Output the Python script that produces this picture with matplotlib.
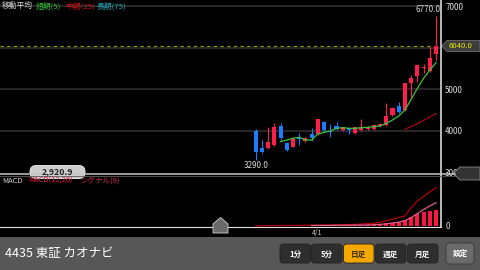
import numpy as np
import matplotlib
matplotlib.use('Agg')
import matplotlib.pyplot as plt
from matplotlib.patches import Rectangle, Polygon, FancyBboxPatch

plt.rcParams['font.family'] = ['Noto Sans CJK JP', 'DejaVu Sans']

# daily candles
opens  = [4000, 3574, 3590, 3655, 4122, 3695, 3615, 3840, 3743, 3920,
          3920, 4218, 4001, 4114, 4017, 4057, 3937, 4017, 4033, 4033,
          4114, 4138, 4379, 4597, 4500, 5160, 5321, 5506, 5450, 5860]
closes = [3494, 3494, 3719, 4081, 3832, 3534, 3792, 3792, 3824, 3816,
          4275, 4017, 3977, 4033, 4081, 4017, 4081, 4098, 4098, 4138,
          4162, 4355, 4556, 4460, 5160, 5281, 5587, 5530, 5764, 6040]
highs  = [4033, 3775, 4098, 4178, 4178, 3735, 3856, 3937, 3856, 4073,
          4275, 4234, 4154, 4218, 4098, 4081, 4098, 4275, 4114, 4154,
          4195, 4661, 4580, 4701, 5160, 5345, 5611, 5611, 6013, 6770]
lows   = [3290, 3454, 3550, 3620, 3775, 3518, 3598, 3655, 3719, 3760,
          3896, 3977, 3840, 4017, 4001, 3920, 3920, 4001, 4017, 4017,
          4098, 4122, 4355, 4436, 4484, 4782, 5184, 5385, 5426, 5708]

ma5 = [3735, 3775, 3816, 3840, 3775, 3775, 3920, 3961, 3993, 4057,
       4073, 4057, 4057, 4073, 4081, 4098, 4114, 4178, 4258, 4355,
       4500, 4758, 5023, 5265, 5466, 5643]
ma25 = [4034, 4100, 4170, 4250, 4330, 4420]

macd_line = [0, 0, 1, 1, 1, 2, 2, 2, 3, 3, 4, 4, 5, 5, 6, 7, 8, 10, 12, 15,
             20, 28, 37, 46, 55, 100, 137, 163, 188, 212]
signal = [2, 2, 2, 2, 3, 3, 3, 4, 4, 5, 6, 8, 11, 15, 20, 28,
          45, 68, 90, 110, 128]          # from day 9 on
hist = [1, 1, 1, 1, 1, 1, 1, 1, 1, 1, 2, 2, 2, 3, 3, 4, 4, 5, 6, 7,
        10, 14, 17, 23, 32, 50, 68, 77, 82, 86]

grid_prices = [4000, 5000, 6000, 7000]
price_ticks = [3000, 4000, 5000, 7000]   # 6000 sits under the price tag
last_price = 6040
buttons = ['1分', '5分', '日足', '週足', '月足']

RED = '#ff1f4b'
BLUE = '#1e7bff'
W, H = 480, 270


def box(x0, y0, x1, y1):
    return [x0 / W, 1 - y1 / H, (x1 - x0) / W, (y1 - y0) / H]


fig = plt.figure(figsize=(4.8, 2.7), dpi=100, facecolor='black')
XLIM = (-41.1, 29.8)
idx = np.arange(len(opens))
o, c, hi, lo = map(np.array, (opens, closes, highs, lows))
cols = np.where(c >= o, RED, BLUE)

# price panel
ax = fig.add_axes(box(0, 0, 441, 173), facecolor='black')
ax.set_xlim(*XLIM)
ax.set_ylim(2978, 7157)
for p in grid_prices:
    ax.axhline(p, color='#323232', lw=1.1, zorder=0)
ax.axhline(last_price, color='#9a9a00', lw=0.8, dashes=(3, 3), zorder=1)
ax.vlines(idx, lo, hi, colors=cols, lw=0.8, zorder=2)
ax.bar(idx, np.maximum(np.abs(c - o), 15), bottom=np.minimum(o, c),
       width=0.65, color=cols, zorder=2)
ax.plot(idx[4:], ma5, color='#3ec43e', lw=0.9, zorder=3)
ax.plot(idx[-len(ma25):], ma25, color='#a01010', lw=0.9, zorder=3)
ax.annotate('6770.0', (idx[-1] + 0.7, hi[-1]), xytext=(0, 1.5),
            textcoords='offset points', ha='right', va='bottom',
            fontsize=5.8, color='#d8d8d8')
ax.annotate('3290.0', (0, lo[0]), xytext=(0, -0.5),
            textcoords='offset points', ha='center', va='top',
            fontsize=5.8, color='#d8d8d8')
ax.set_xticks([])
ax.yaxis.tick_right()
ax.set_yticks(price_ticks)
ax.tick_params(axis='y', length=0, pad=3, labelsize=5.8, labelcolor='#e0e0e0')
for s in ax.spines.values():
    s.set_visible(False)

# MACD panel
mx = fig.add_axes(box(0, 175, 441, 226.5), facecolor='black')
mx.set_xlim(*XLIM)
mx.set_ylim(-3.9, 282)
mx.bar(idx, hist, width=0.65, color='#ff1744', zorder=2)
mx.plot(idx, macd_line, color='#b00000', lw=0.9, zorder=3)
mx.plot(idx[-len(signal):], signal, color='#e0608a', lw=0.9, zorder=4)
mx.set_xticks([])
mx.yaxis.tick_right()
mx.set_yticks([0])
mx.tick_params(axis='y', length=0, pad=3, labelsize=5.8, labelcolor='#e0e0e0')
for k, s in mx.spines.items():
    s.set_visible(k == 'bottom')
mx.spines['bottom'].set_color('#e0e0e0')
mx.spines['bottom'].set_linewidth(0.8)

# screen furniture in pixel coordinates
ui = fig.add_axes([0, 0, 1, 1], zorder=10)
ui.set_xlim(0, W)
ui.set_ylim(H, 0)
ui.axis('off')
ui.patch.set_visible(False)

ui.plot([441, 441], [0, 227], color='#d8d8d8', lw=1.2)
ui.plot([0, 455], [173.5, 173.5], color='#c4c4c4', lw=1.1)
ui.plot([0, 455], [175.6, 175.6], color='#5a5a5a', lw=0.6)

ui.text(2, 6, '移動平均', fontsize=5.6, color='#d8d8d8', va='center')
ui.text(36, 6, '短期(5)', fontsize=5.6, color='#33c033', va='center')
ui.text(65, 6, '中期(25)', fontsize=5.6, color='#d01414', va='center')
ui.text(97, 6, '長期(75)', fontsize=5.6, color='#22a8b8', va='center')

ui.text(2, 181, 'MACD', fontsize=5.4, color='#d0d0d0', va='center')
ui.text(28, 181, 'MACD(12,26)', fontsize=5.4, color='#e0103a', va='center')
ui.text(80, 181, 'シグナル(9)', fontsize=5.4, color='#d02858', va='center')
ui.add_patch(FancyBboxPatch((30, 165.5), 55, 13,
                            boxstyle='round,pad=0,rounding_size=6',
                            fc='#cdcdcd', ec='#efefef', lw=0.6))
ui.text(57.5, 172, '2,920.9', fontsize=6.2, color='#222222',
        ha='center', va='center', weight='bold')

ui.add_patch(Polygon([(441.5, 46), (447, 40.5), (480, 40.5), (480, 51.5),
                      (447, 51.5)], fc='#3c3c3c', ec='#707070', lw=0.6))
ui.text(449, 46.3, f'{last_price:.1f}', fontsize=5.6, color='#e8e800',
        va='center')
ui.add_patch(Polygon([(453, 173.5), (460, 167), (480, 167), (480, 180),
                      (460, 180)], fc='#333333', ec='#8a8a8a', lw=0.6))

ui.add_patch(Polygon([(213, 233), (213, 224), (220.5, 217.5), (228, 224),
                      (228, 233)], fc='#6a6a6a', ec='#cfcfcf', lw=0.6))
ui.text(317, 233, '4/1', fontsize=5, color='#d0d0d0', ha='center',
        va='center')

# bottom bar
ui.add_patch(Rectangle((0, 237), W, 33, fc='#575757', ec='none'))
ui.text(5, 253, '4435 東証 カオナビ', fontsize=9, color='white', va='center')
bx = [280, 311.5, 343.5, 375.5, 407.5]
for x0, lab in zip(bx, buttons):
    sel = lab == '日足'
    ui.add_patch(FancyBboxPatch((x0, 244), 30.5, 19,
                                boxstyle='round,pad=0,rounding_size=3',
                                fc='#f3a800' if sel else '#2e2e2e',
                                ec='#222222', lw=0.6))
    ui.text(x0 + 15.25, 254, lab, fontsize=5.5, weight='bold',
            color='#3a2a00' if sel else 'white', ha='center', va='center')
ui.add_patch(FancyBboxPatch((446, 243), 28, 21,
                            boxstyle='round,pad=0,rounding_size=3',
                            fc='#6b6b6b', ec='#3a3a3a', lw=0.6))
ui.text(460, 253.5, '設定', fontsize=5.5, weight='bold', color='white',
        ha='center', va='center')

fig.savefig('out.png', dpi=100, facecolor='black')
